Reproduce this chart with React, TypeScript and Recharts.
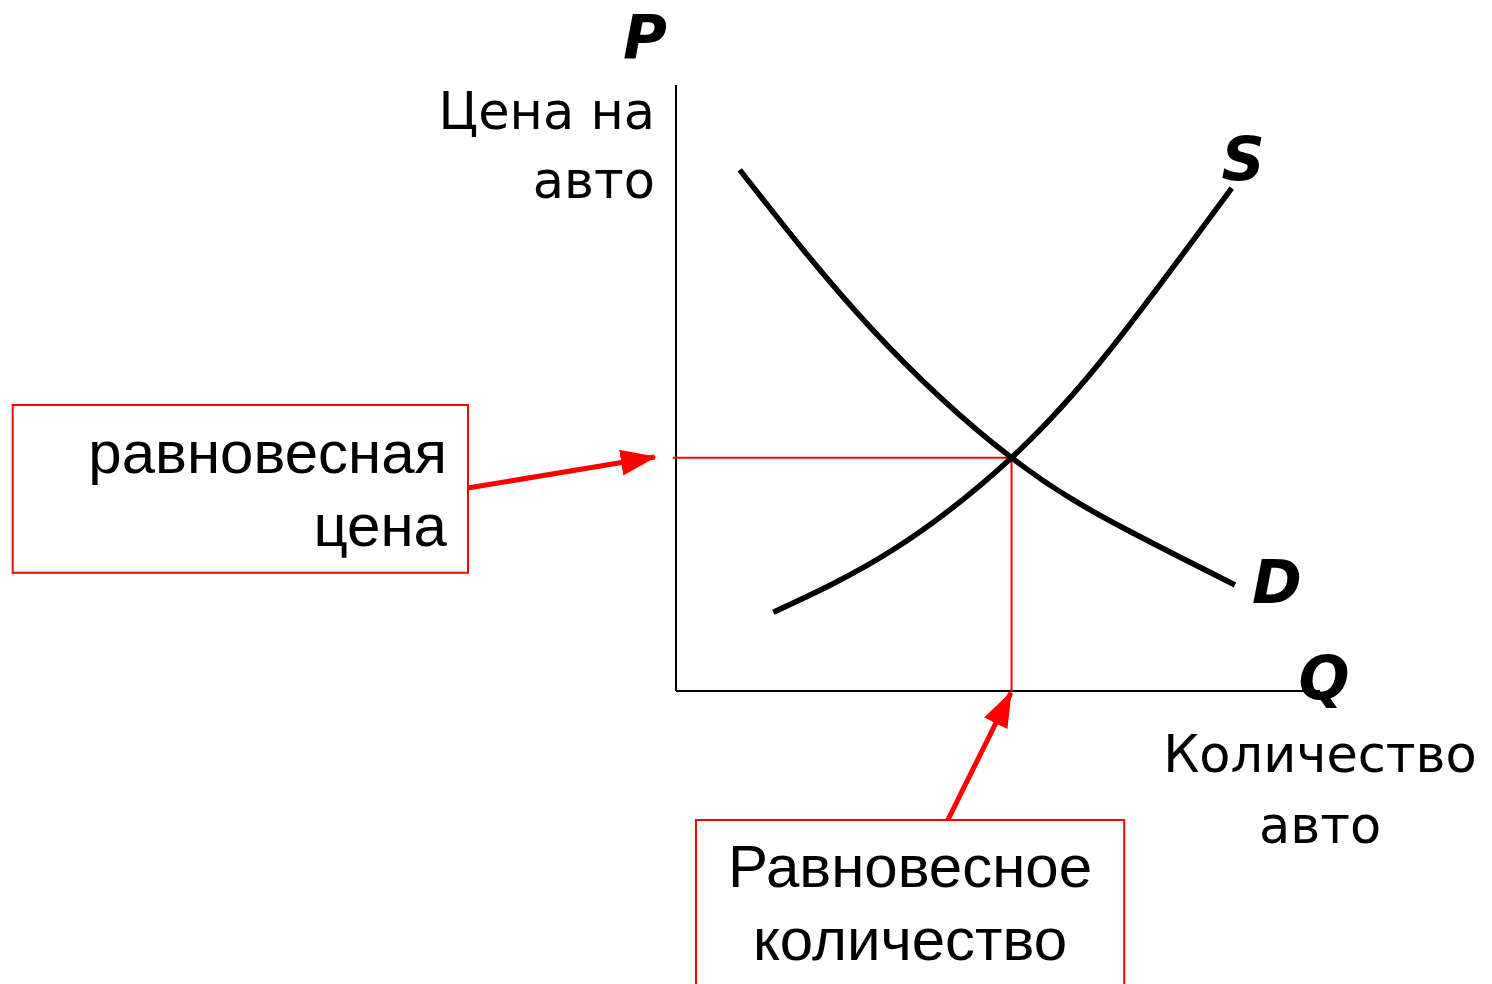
import React from 'react';
import { ComposedChart, Line, XAxis, YAxis, ReferenceLine, ReferenceArea } from 'recharts';

// quantity / price points (axis units 0..10)
const demand = [
  { q: 0.99, p: 8.6 },
  { q: 3.01, p: 6.01 },
  { q: 5.21, p: 3.85 },
  { q: 7.0, p: 2.66 },
  { q: 8.68, p: 1.75 },
];

const supply = [
  { q: 1.51, p: 1.3 },
  { q: 3.37, p: 2.33 },
  { q: 5.21, p: 3.85 },
  { q: 6.74, p: 5.63 },
  { q: 8.63, p: 8.3 },
];

const EQ_Q = 5.21;
const EQ_P = 3.85;

const axisLabelP = ['Цена на', 'авто'];
const axisLabelQ = ['Количество', 'авто'];
const priceNote = ['равновесная', 'цена'];
const qtyNote = ['Равновесное', 'количество'];

const RED = '#ff0000';
const verdana = '"DejaVu Sans", Verdana, sans-serif';
const arial = '"Liberation Sans", Arial, sans-serif';

export default function App() {
  return (
    <div style={{ position: 'absolute', left: 0, top: 0, background: '#fff' }}>
      <ComposedChart
        width={1492}
        height={984}
        margin={{ top: 85, right: 172, bottom: 293, left: 676 }}
      >
        <defs>
          <marker
            id="redArrow"
            markerUnits="userSpaceOnUse"
            markerWidth={40}
            markerHeight={30}
            refX={34}
            refY={13}
            orient="auto"
          >
            <path d="M0,0 L36,13 L0,26 Z" fill={RED} />
          </marker>
        </defs>
        <XAxis type="number" dataKey="q" domain={[0, 10]} hide />
        <YAxis type="number" dataKey="p" domain={[0, 10]} hide />

        {/* axes */}
        <ReferenceLine
          segment={[{ x: 0, y: 0 }, { x: 0, y: 10 }]}
          ifOverflow="visible"
          stroke="#000"
          strokeWidth={2}
        />
        <ReferenceLine
          segment={[{ x: 0, y: 0 }, { x: 10, y: 0 }]}
          ifOverflow="visible"
          stroke="#000"
          strokeWidth={2}
        />

        {/* annotation boxes */}
        <ReferenceArea
          x1={-10.3}
          x2={-3.23}
          y1={1.95}
          y2={4.72}
          ifOverflow="visible"
          fill="none"
          fillOpacity={0}
          stroke={RED}
          strokeWidth={2}
        />
        <ReferenceArea
          x1={0.31}
          x2={6.96}
          y1={-4.95}
          y2={-2.13}
          ifOverflow="visible"
          fill="none"
          fillOpacity={0}
          stroke={RED}
          strokeWidth={2}
        />

        {/* equilibrium guides */}
        <ReferenceLine
          segment={[{ x: -0.05, y: EQ_P }, { x: EQ_Q, y: EQ_P }]}
          ifOverflow="visible"
          stroke={RED}
          strokeWidth={2}
        />
        <ReferenceLine
          segment={[{ x: EQ_Q, y: EQ_P + 0.05 }, { x: EQ_Q, y: 0 }]}
          ifOverflow="visible"
          stroke={RED}
          strokeWidth={2}
        />

        {/* arrows from the notes */}
        <ReferenceLine
          segment={[{ x: -3.23, y: 3.35 }, { x: -0.33, y: 3.86 }]}
          ifOverflow="visible"
          stroke={RED}
          strokeWidth={5}
          markerEnd="url(#redArrow)"
        />
        <ReferenceLine
          segment={[{ x: 4.22, y: -2.13 }, { x: 5.2, y: -0.03 }]}
          ifOverflow="visible"
          stroke={RED}
          strokeWidth={5}
          markerEnd="url(#redArrow)"
        />

        <Line
          data={demand}
          dataKey="p"
          type="natural"
          stroke="#000"
          strokeWidth={5.5}
          dot={false}
          isAnimationActive={false}
        />
        <Line
          data={supply}
          dataKey="p"
          type="natural"
          stroke="#000"
          strokeWidth={5.5}
          dot={false}
          isAnimationActive={false}
        />

        {/* axis names */}
        <text x={645} y={58} textAnchor="middle" fontFamily={verdana} fontSize={60} fontWeight="bold" fontStyle="italic">P</text>
        <text x={1324} y={699} textAnchor="middle" fontFamily={verdana} fontSize={60} fontWeight="bold" fontStyle="italic">Q</text>
        <text x={1243} y={180} textAnchor="middle" fontFamily={verdana} fontSize={60} fontWeight="bold" fontStyle="italic">S</text>
        <text x={1277} y={603} textAnchor="middle" fontFamily={verdana} fontSize={60} fontWeight="bold" fontStyle="italic">D</text>

        <text x={655} y={129} textAnchor="end" fontFamily={verdana} fontSize={51}>{axisLabelP[0]}</text>
        <text x={655} y={198} textAnchor="end" fontFamily={verdana} fontSize={51}>{axisLabelP[1]}</text>
        <text x={1320} y={772} textAnchor="middle" fontFamily={verdana} fontSize={51}>{axisLabelQ[0]}</text>
        <text x={1320} y={843} textAnchor="middle" fontFamily={verdana} fontSize={51}>{axisLabelQ[1]}</text>

        <text x={447} y={473} textAnchor="end" fontFamily={arial} fontSize={60}>{priceNote[0]}</text>
        <text x={447} y={546} textAnchor="end" fontFamily={arial} fontSize={60}>{priceNote[1]}</text>
        <text x={910} y={887} textAnchor="middle" fontFamily={arial} fontSize={60}>{qtyNote[0]}</text>
        <text x={910} y={960} textAnchor="middle" fontFamily={arial} fontSize={60}>{qtyNote[1]}</text>
      </ComposedChart>
    </div>
  );
}
